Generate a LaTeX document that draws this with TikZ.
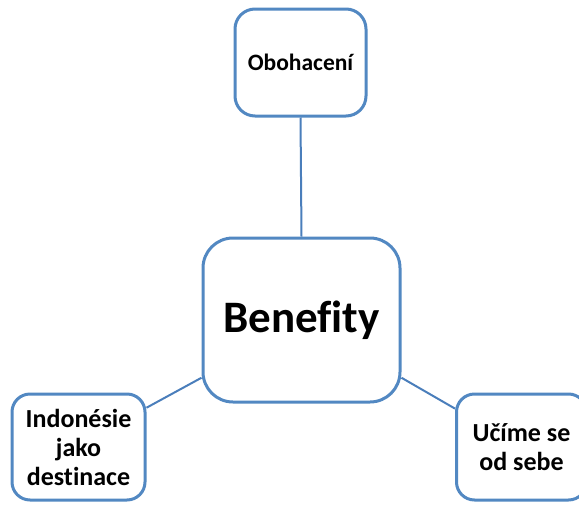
\documentclass[tikz,border=0pt]{standalone}
\usepackage{fontspec}
\setmainfont{Carlito}[Ligatures=NoCommon]
\definecolor{boxblue}{RGB}{82,136,194}
\definecolor{lineblue}{RGB}{74,126,187}
\begin{document}
\begin{tikzpicture}[x=1pt,y=-1pt,
  box/.style={draw=boxblue,line width=3pt,fill=white,rounded corners=20pt,
    inner sep=0pt,align=center,font=\bfseries\fontsize{26}{29}\selectfont},
  link/.style={draw=lineblue,line width=2pt}]
\useasboundingbox (0,0) rectangle (579,504);
\begin{scope}
\clip (0,0) rectangle (579,504);
\node[box,minimum width=131pt,minimum height=107pt,font=\bfseries\fontsize{23.5}{28}\selectfont] (top) at (300.5,62.5) {Obohacení};
\node[box,minimum width=197pt,minimum height=164pt,rounded corners=30pt,
  font=\bfseries\fontsize{45}{54}\selectfont] (center) at (301.5,320) {Benefity};
\node[box,minimum width=133pt,minimum height=106pt,rounded corners=18pt] (left) at (78.5,447) {Indonésie\\jako\\destinace};
\node[box,minimum width=130pt,minimum height=106pt,rounded corners=18pt] (right) at (521.5,447) {Učíme se\\od sebe};
\draw[link] (top.south) -- (center.north);
\draw[link] (left.30) -- (center.210);
\draw[link] (center.330) -- (right.150);
\end{scope}
\end{tikzpicture}
\end{document}
